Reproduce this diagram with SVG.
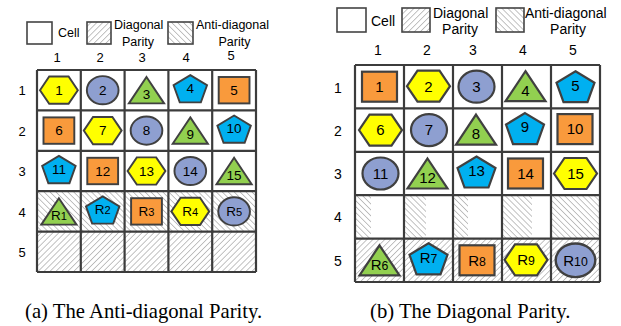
<svg xmlns="http://www.w3.org/2000/svg" xmlns:xlink="http://www.w3.org/1999/xlink" width="621" height="326" viewBox="0 0 621 326">
<style>
.lbl{font-family:"Liberation Sans",Arial,sans-serif;fill:#000;text-anchor:middle}
.lg{font-family:"Liberation Sans",Arial,sans-serif;fill:#000}
.cap{font-family:"Liberation Serif","Times New Roman",serif;font-size:20.7px;fill:#000}
.grid{fill:none;stroke:#3c3c3c;stroke-width:2.2}
.box{stroke:#444;stroke-width:1.6}
.na{font-size:13.5px}
.nb{font-size:15px}
.sub{font-size:0.82em}
.shp{stroke:#404040;stroke-width:2.2}
</style>
<defs>
<pattern id="diag" patternUnits="userSpaceOnUse" width="4.2" height="4.2" patternTransform="rotate(45)">
<line x1="0" y1="0" x2="0" y2="4.2" stroke="#7a7a7a" stroke-width="0.9"/>
</pattern>
<pattern id="anti" patternUnits="userSpaceOnUse" width="4.2" height="4.2" patternTransform="rotate(-45)">
<line x1="0" y1="0" x2="0" y2="4.2" stroke="#7a7a7a" stroke-width="0.9"/>
</pattern>
<polygon id="hex" class="shp" fill="#FFFF00" points="-21.5,0 -11,-15.5 11,-15.5 21.5,0 11,15.5 -11,15.5"/>
<ellipse id="ell" class="shp" fill="#8E9FD0" cx="0" cy="0" rx="18" ry="16"/>
<polygon id="tri" class="shp" fill="#92D050" points="0,-15 20,15 -20,15"/>
<polygon id="pen" class="shp" fill="#00B0F0" points="0,-16 19,-4.5 12,15 -12,15 -19,-4.5"/>
<rect id="sq" class="shp" fill="#F99A3C" x="-17.5" y="-15" width="35" height="30"/>
</defs>
<rect width="621" height="326" fill="#fff"/>

<!-- Legend (a) -->
<g id="legend-a">
<rect class="box" x="27" y="22" width="25" height="22" fill="#fff"/>
<text class="lg" x="58" y="37" font-size="12.5">Cell</text>
<rect class="box" x="87" y="22" width="24" height="22" fill="url(#diag)"/>
<text class="lg" x="114" y="29" font-size="12.5">Diagonal</text>
<text class="lg" x="138" y="46" font-size="12.5" text-anchor="middle">Parity</text>
<rect class="box" x="168" y="22" width="25" height="22" fill="url(#anti)"/>
<text class="lg" x="196" y="29" font-size="12.5">Anti-diagonal</text>
<text class="lg" x="234.5" y="46" font-size="12.5" text-anchor="middle">Parity</text>
</g>

<!-- Grid (a) -->
<g id="grid-a">
<rect x="37" y="70" width="219" height="121.2" fill="#fff"/>
<rect x="37" y="191.2" width="219" height="40.4" fill="url(#anti)"/>
<rect x="37" y="231.6" width="219" height="40.4" fill="url(#diag)"/>
<path class="grid" d="M37,70V272M80.8,70V272M124.6,70V272M168.4,70V272M212.2,70V272M256,70V272M37,70H256M37,110.4H256M37,150.8H256M37,191.2H256M37,231.6H256M37,272H256"/>
</g>
<g id="labels-a" class="lbl" font-size="13">
<text x="57" y="62">1</text><text x="100" y="62">2</text><text x="142" y="62">3</text><text x="186" y="62">4</text><text x="231" y="60">5</text>
<text x="22" y="95">1</text><text x="22" y="135.5">2</text><text x="22" y="176">3</text><text x="22" y="216.5">4</text><text x="22" y="256.5">5</text>
</g>

<!-- Nodes (a) -->
<g id="a1"><use xlink:href="#hex" href="#hex" transform="translate(58.9,90.2) scale(0.88)"/><text class="lbl na" x="58.9" y="95">1</text></g>
<g id="a2"><use xlink:href="#ell" href="#ell" transform="translate(102.7,90.2) scale(0.88)"/><text class="lbl na" x="102.7" y="95">2</text></g>
<g id="a3"><use xlink:href="#tri" href="#tri" transform="translate(146.5,90.2) scale(0.88)"/><text class="lbl na" x="146.5" y="99">3</text></g>
<g id="a4"><use xlink:href="#pen" href="#pen" transform="translate(190.3,89.2) scale(0.88)"/><text class="lbl na" x="190.3" y="93">4</text></g>
<g id="a5"><use xlink:href="#sq" href="#sq" transform="translate(234.1,90.2) scale(0.88)"/><text class="lbl na" x="234.1" y="95">5</text></g>

<g id="a6"><use xlink:href="#sq" href="#sq" transform="translate(58.9,130.6) scale(0.88)"/><text class="lbl na" x="58.9" y="135.4">6</text></g>
<g id="a7"><use xlink:href="#hex" href="#hex" transform="translate(102.7,130.6) scale(0.88)"/><text class="lbl na" x="102.7" y="135.4">7</text></g>
<g id="a8"><use xlink:href="#ell" href="#ell" transform="translate(146.5,130.6) scale(0.88)"/><text class="lbl na" x="146.5" y="135.4">8</text></g>
<g id="a9"><use xlink:href="#tri" href="#tri" transform="translate(190.3,130.6) scale(0.88)"/><text class="lbl na" x="190.3" y="139.4">9</text></g>
<g id="a10"><use xlink:href="#pen" href="#pen" transform="translate(234.1,129.6) scale(0.88)"/><text class="lbl na" x="234.1" y="133.4">10</text></g>

<g id="a11"><use xlink:href="#pen" href="#pen" transform="translate(58.9,170) scale(0.88)"/><text class="lbl na" x="58.9" y="173.8">11</text></g>
<g id="a12"><use xlink:href="#sq" href="#sq" transform="translate(102.7,171) scale(0.88)"/><text class="lbl na" x="102.7" y="175.8">12</text></g>
<g id="a13"><use xlink:href="#hex" href="#hex" transform="translate(146.5,171) scale(0.88)"/><text class="lbl na" x="146.5" y="175.8">13</text></g>
<g id="a14"><use xlink:href="#ell" href="#ell" transform="translate(190.3,171) scale(0.88)"/><text class="lbl na" x="190.3" y="175.8">14</text></g>
<g id="a15"><use xlink:href="#tri" href="#tri" transform="translate(234.1,171) scale(0.88)"/><text class="lbl na" x="234.1" y="179.8">15</text></g>

<g id="aR1"><use xlink:href="#tri" href="#tri" transform="translate(58.9,211.4) scale(0.88)"/><text class="lbl na" x="58.9" y="220.2">R<tspan class="sub">1</tspan></text></g>
<g id="aR2"><use xlink:href="#pen" href="#pen" transform="translate(102.7,210.4) scale(0.88)"/><text class="lbl na" x="102.7" y="214.2">R<tspan class="sub">2</tspan></text></g>
<g id="aR3"><use xlink:href="#sq" href="#sq" transform="translate(146.5,211.4) scale(0.88)"/><text class="lbl na" x="146.5" y="216.2">R<tspan class="sub">3</tspan></text></g>
<g id="aR4"><use xlink:href="#hex" href="#hex" transform="translate(190.3,211.4) scale(0.88)"/><text class="lbl na" x="190.3" y="216.2">R<tspan class="sub">4</tspan></text></g>
<g id="aR5"><use xlink:href="#ell" href="#ell" transform="translate(234.1,211.4) scale(0.88)"/><text class="lbl na" x="234.1" y="216.2">R<tspan class="sub">5</tspan></text></g>

<text class="cap" x="25" y="318">(a) The Anti-diagonal Parity.</text>

<!-- Legend (b) -->
<g id="legend-b">
<rect class="box" x="337" y="8" width="29" height="24" fill="#fff"/>
<text class="lg" x="371" y="26" font-size="14">Cell</text>
<rect class="box" x="402" y="8" width="28" height="24" fill="url(#diag)"/>
<text class="lg" x="433" y="18" font-size="14">Diagonal</text>
<text class="lg" x="460" y="34" font-size="14" text-anchor="middle">Parity</text>
<rect class="box" x="496" y="8" width="28" height="24" fill="url(#anti)"/>
<text class="lg" x="525" y="18" font-size="14">Anti-diagonal</text>
<text class="lg" x="568" y="34" font-size="14" text-anchor="middle">Parity</text>
</g>

<!-- Grid (b) -->
<g id="grid-b">
<rect x="355" y="65" width="245" height="217" fill="#fff"/>
<rect x="355" y="195.2" width="16" height="43.4" fill="url(#anti)"/>
<rect x="404" y="195.2" width="22" height="43.4" fill="url(#anti)"/>
<rect x="453" y="195.2" width="15" height="43.4" fill="url(#anti)"/>
<rect x="502" y="195.2" width="30" height="43.4" fill="url(#anti)"/>
<rect x="551" y="195.2" width="49" height="43.4" fill="url(#anti)"/>
<rect x="355" y="238.6" width="245" height="43.4" fill="url(#diag)"/>
<path class="grid" d="M355,65V282M404,65V282M453,65V282M502,65V282M551,65V282M600,65V282M355,65H600M355,108.4H600M355,151.8H600M355,195.2H600M355,238.6H600M355,282H600"/>
</g>
<g id="labels-b" class="lbl" font-size="14">
<text x="378" y="54.5">1</text><text x="427" y="54.5">2</text><text x="473" y="54.5">3</text><text x="523" y="54.5">4</text><text x="573" y="54.5">5</text>
<text x="338" y="92.5">1</text><text x="338" y="135.5">2</text><text x="338" y="179">3</text><text x="338" y="222">4</text><text x="338" y="265.5">5</text>
</g>

<!-- Nodes (b) -->
<g id="b1"><use xlink:href="#sq" href="#sq" transform="translate(379.5,86.7)"/><text class="lbl nb" x="379.5" y="92">1</text></g>
<g id="b2"><use xlink:href="#hex" href="#hex" transform="translate(428.5,86.2)"/><text class="lbl nb" x="428.5" y="91.5">2</text></g>
<g id="b3"><use xlink:href="#ell" href="#ell" transform="translate(476.5,86.7)"/><text class="lbl nb" x="476.5" y="92">3</text></g>
<g id="b4"><use xlink:href="#tri" href="#tri" transform="translate(525.5,86.2)"/><text class="lbl nb" x="525.5" y="96">4</text></g>
<g id="b5"><use xlink:href="#pen" href="#pen" transform="translate(575.5,87.2)"/><text class="lbl nb" x="575.5" y="91">5</text></g>

<g id="b6"><use xlink:href="#hex" href="#hex" transform="translate(380.5,130.1)"/><text class="lbl nb" x="380.5" y="135.4">6</text></g>
<g id="b7"><use xlink:href="#ell" href="#ell" transform="translate(429,130.1)"/><text class="lbl nb" x="429" y="135.4">7</text></g>
<g id="b8"><use xlink:href="#tri" href="#tri" transform="translate(476,129.6)"/><text class="lbl nb" x="476" y="139.4">8</text></g>
<g id="b9"><use xlink:href="#pen" href="#pen" transform="translate(525,129.1)"/><text class="lbl nb" x="525" y="132">9</text></g>
<g id="b10"><use xlink:href="#sq" href="#sq" transform="translate(575,129.1)"/><text class="lbl nb" x="575" y="134.4">10</text></g>

<g id="b11"><use xlink:href="#ell" href="#ell" transform="translate(380.5,173.5)"/><text class="lbl nb" x="380.5" y="178.8">11</text></g>
<g id="b12"><use xlink:href="#tri" href="#tri" transform="translate(427.5,173.5)"/><text class="lbl nb" x="427.5" y="183.3">12</text></g>
<g id="b13"><use xlink:href="#pen" href="#pen" transform="translate(476.5,172.5)"/><text class="lbl nb" x="476.5" y="176.3">13</text></g>
<g id="b14"><use xlink:href="#sq" href="#sq" transform="translate(525.5,173.5)"/><text class="lbl nb" x="525.5" y="178.8">14</text></g>
<g id="b15"><use xlink:href="#hex" href="#hex" transform="translate(575.5,173.5)"/><text class="lbl nb" x="575.5" y="178.8">15</text></g>

<g id="bR6"><use xlink:href="#tri" href="#tri" transform="translate(379.5,260.3)"/><text class="lbl nb" x="379.5" y="269.6">R<tspan class="sub">6</tspan></text></g>
<g id="bR7"><use xlink:href="#pen" href="#pen" transform="translate(428.5,259.3)"/><text class="lbl nb" x="428.5" y="263.1">R<tspan class="sub">7</tspan></text></g>
<g id="bR8"><use xlink:href="#sq" href="#sq" transform="translate(477,260.3)"/><text class="lbl nb" x="477" y="265.6">R<tspan class="sub">8</tspan></text></g>
<g id="bR9"><use xlink:href="#hex" href="#hex" transform="translate(526,259.8)"/><text class="lbl nb" x="526" y="265.1">R<tspan class="sub">9</tspan></text></g>
<g id="bR10"><use xlink:href="#ell" href="#ell" transform="translate(575.5,260.3) scale(1.1,1.05)"/><text class="lbl nb" x="575.5" y="265.6">R<tspan class="sub">10</tspan></text></g>

<text class="cap" x="370" y="318">(b) The Diagonal Parity.</text>
</svg>
